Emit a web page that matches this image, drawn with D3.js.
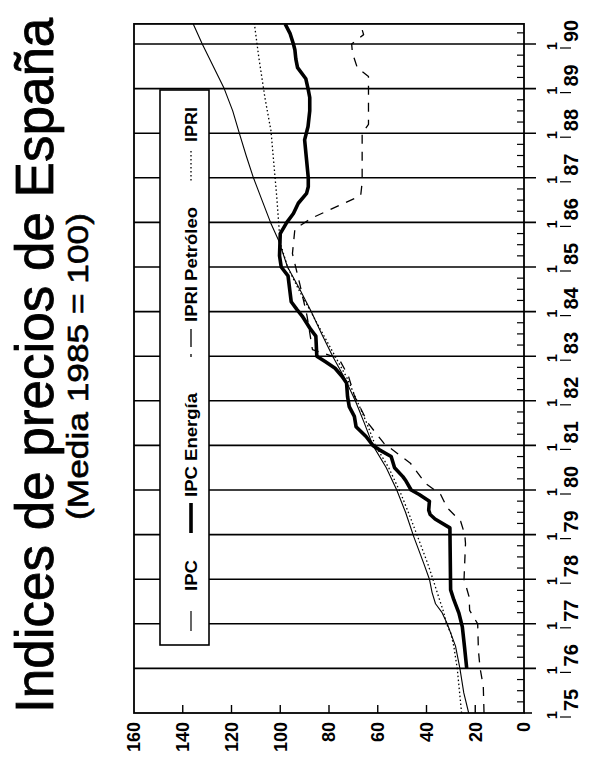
<!DOCTYPE html>
<html>
<head>
<meta charset="utf-8">
<script src="https://cdn.jsdelivr.net/npm/d3@7"></script>
<style>
  html, body { margin: 0; padding: 0; background: #fff; }
  svg { display: block; }
  text { font-family: "Liberation Sans", Arial, Helvetica, sans-serif; fill: #000; }
</style>
</head>
<body>
<svg id="chart" width="598" height="765"></svg>
<script>
// ---------------- data ----------------
const valueTicks = [0, 20, 40, 60, 80, 100, 120, 140, 160];
const yearStarts = [1975, 1976, 1977, 1978, 1979, 1980, 1981, 1982, 1983, 1984, 1985, 1986, 1987, 1988, 1989, 1990];
const yearLabels = ["75", "76", "77", "78", "79", "80", "81", "82", "83", "84", "85", "86", "87", "88", "89", "90"];
const monthLabel = "1";

// IPC (thin solid)
const ipcT = [1975.0, 1975.45, 1976.0, 1976.5, 1977.0, 1977.25, 1977.45, 1977.7, 1978.0, 1978.35, 1978.95, 1979.5, 1980.0, 1980.5, 1981.0, 1981.5, 1982.0, 1982.5, 1983.0, 1983.5, 1984.0, 1984.5, 1985.0, 1985.6, 1986.0, 1986.5, 1987.0, 1987.5, 1988.0, 1988.5, 1989.0, 1989.5, 1990.0, 1990.45];
const ipcV = [22.7, 24.7, 26.3, 28.1, 31.5, 33.6, 36.3, 37.7, 38.8, 41.1, 45.2, 48.6, 52.2, 56.5, 62.0, 65.5, 69.2, 73.5, 78.5, 83.0, 87.3, 92.0, 97.0, 100.7, 104.0, 107.5, 111.0, 114.0, 116.8, 119.5, 123.0, 127.5, 132.0, 135.7];

// IPC Energía (thick solid)
const enerT = [1976.0, 1976.48, 1976.93, 1977.24, 1977.54, 1977.76, 1979.15, 1979.35, 1979.45, 1979.55, 1979.75, 1979.9, 1980.0, 1980.2, 1980.3, 1980.5, 1980.75, 1980.9, 1981.0, 1981.2, 1981.42, 1981.65, 1981.87, 1982.1, 1982.4, 1982.55, 1982.73, 1982.88, 1983.0, 1983.45, 1983.6, 1983.9, 1984.05, 1984.22, 1984.8, 1985.0, 1985.25, 1985.75, 1986.0, 1986.2, 1986.43, 1986.65, 1986.8, 1987.0, 1987.4, 1987.85, 1988.15, 1988.5, 1988.8, 1989.0, 1989.22, 1989.47, 1989.66, 1989.87, 1990.0, 1990.24, 1990.45];
const enerV = [23.5, 24.4, 25.3, 26.7, 28.8, 30.1, 30.4, 36.5, 38.5, 39.1, 38.8, 43.0, 46.3, 48.4, 49.7, 53.1, 54.5, 59.3, 62.0, 64.8, 68.9, 69.6, 71.7, 72.4, 72.8, 74.7, 77.5, 81.6, 85.0, 85.4, 87.5, 91.0, 93.2, 95.5, 96.8, 99.6, 100.3, 100.0, 97.3, 94.6, 92.6, 89.2, 88.5, 88.5, 89.2, 90.0, 88.6, 87.9, 87.9, 88.6, 89.5, 92.9, 93.6, 94.0, 94.6, 96.0, 98.0];

// IPRI Petróleo (dashed)
const petT = [1975.0, 1975.6, 1976.0, 1976.4, 1977.0, 1977.3, 1977.6, 1978.0, 1978.4, 1978.8, 1979.0, 1979.3, 1979.6, 1979.9, 1980.15, 1980.6, 1981.05, 1981.5, 1982.1, 1982.55, 1982.95, 1983.15, 1983.9, 1984.6, 1985.3, 1985.85, 1986.1, 1986.4, 1986.6, 1986.9, 1987.5, 1988.0, 1988.2, 1988.95, 1989.27, 1989.47, 1989.8, 1990.0, 1990.21, 1990.45];
const petV = [16.4, 16.7, 18.0, 18.7, 19.0, 22.3, 22.5, 24.6, 24.3, 24.0, 24.3, 26.0, 31.5, 34.2, 40.4, 46.6, 57.5, 64.0, 69.5, 72.0, 76.0, 86.8, 89.0, 91.9, 95.0, 94.0, 87.0, 75.0, 67.0, 66.4, 66.4, 66.4, 63.8, 63.8, 63.8, 68.4, 70.4, 70.7, 65.8, 67.1];

// IPRI (dotted)
const ipriT = [1975.0, 1975.5, 1976.0, 1976.5, 1976.8, 1977.0, 1977.25, 1977.7, 1977.94, 1978.35, 1978.95, 1979.48, 1979.94, 1980.5, 1981.0, 1981.5, 1982.0, 1982.5, 1983.0, 1983.5, 1984.0, 1984.5, 1985.0, 1985.5, 1985.8, 1986.55, 1987.3, 1988.05, 1988.8, 1989.7, 1990.45];
const ipriV = [25.6, 26.5, 27.4, 28.8, 30.1, 31.8, 32.9, 35.6, 37.0, 39.5, 43.6, 47.3, 50.7, 55.5, 61.0, 64.5, 68.5, 72.5, 77.5, 82.5, 87.5, 92.5, 97.0, 99.8, 100.4, 101.4, 102.6, 103.8, 106.3, 108.8, 110.6];

const legendNames = ["IPC", "IPC Energía", "IPRI Petróleo", "IPRI"];
const titleText = "Indices de precios de España";
const subtitleText = "(Media 1985 = 100)";

// ---------------- layout ----------------
const svg = d3.select("#chart");
const tEnd = 1990.45;
const y = d3.scaleLinear().domain([1975, 1990]).range([713, 44]);   // time runs upward
const x = d3.scaleLinear().domain([0, 160]).range([524, 134]);      // value runs leftward
const pTop = y(tEnd), pBottom = y(1975), pLeft = x(160), pRight = x(0);

svg.append("defs").append("clipPath").attr("id", "plotclip")
  .append("rect").attr("x", pLeft).attr("y", pTop).attr("width", pRight - pLeft).attr("height", pBottom - pTop);

// title
svg.append("text")
  .attr("transform", `translate(53,${pBottom}) rotate(-90)`)
  .attr("font-size", 53)
  .attr("stroke", "#000").attr("stroke-width", 0.8)
  .text(titleText);
svg.append("text")
  .attr("transform", `translate(88,520) rotate(-90)`)
  .attr("font-size", 29)
  .attr("stroke", "#000").attr("stroke-width", 0.6)
  .attr("textLength", 307).attr("lengthAdjust", "spacingAndGlyphs")
  .text(subtitleText);

// year gridlines (extend past right edge as ticks)
svg.append("g").selectAll("line").data(yearStarts.slice(1)).join("line")
  .attr("x1", pLeft).attr("x2", pRight + 12)
  .attr("y1", d => y(d)).attr("y2", d => y(d))
  .attr("stroke", "#000").attr("stroke-width", 1.6);
svg.append("line").attr("x1", pRight).attr("x2", pRight + 8)
  .attr("y1", pBottom).attr("y2", pBottom).attr("stroke", "#000").attr("stroke-width", 1.6);

// quarterly minor ticks along right edge
const quarters = [];
yearStarts.forEach(yr => [0.25, 0.5, 0.75].forEach(q => { if (yr + q < tEnd) quarters.push(yr + q); }));
svg.append("g").selectAll("line").data(quarters).join("line")
  .attr("x1", pRight - 7).attr("x2", pRight)
  .attr("y1", d => y(d)).attr("y2", d => y(d))
  .attr("stroke", "#000").attr("stroke-width", 1.2);

// value ticks along bottom edge
svg.append("g").selectAll("line").data(valueTicks.slice(1, -1)).join("line")
  .attr("x1", d => x(d)).attr("x2", d => x(d))
  .attr("y1", pBottom).attr("y2", pBottom - 8)
  .attr("stroke", "#000").attr("stroke-width", 1.4);

// value labels
svg.append("g").selectAll("text").data(valueTicks).join("text")
  .attr("transform", d => `translate(${x(d)},722) rotate(-90)`)
  .attr("text-anchor", "end").attr("dy", "0.36em")
  .attr("font-size", 18).attr("font-weight", "bold")
  .text(d => d);

// month "1" labels
svg.append("g").selectAll("text").data(yearStarts).join("text")
  .attr("transform", d => `translate(557,${y(d) + 2}) rotate(-90)`)
  .attr("text-anchor", "middle")
  .attr("font-size", 14).attr("font-weight", "bold")
  .text(monthLabel);
// separators
svg.append("g").selectAll("line").data(yearStarts).join("line")
  .attr("x1", 560).attr("x2", 571)
  .attr("y1", d => y(d) + 4).attr("y2", d => y(d) + 4)
  .attr("stroke", "#000").attr("stroke-width", 1.2);
// year labels
svg.append("g").selectAll("text").data(yearStarts).join("text")
  .attr("transform", d => `translate(578,${y(d) - 2}) rotate(-90)`)
  .attr("text-anchor", "start")
  .attr("font-size", 20).attr("font-weight", "bold")
  .text((d, i) => yearLabels[i]);

// series
const line = d3.line().x(d => x(d[1])).y(d => y(d[0]));
const zipS = (T, V) => T.map((t, i) => [t, V[i]]);
const series = [
  { data: zipS(ipriT, ipriV), w: 1.3, dash: "1.5,2.5" },
  { data: zipS(petT, petV), w: 1.3, dash: "9,8" },
  { data: zipS(ipcT, ipcV), w: 1.1, dash: null },
  { data: zipS(enerT, enerV), w: 3.6, dash: null }
];
const gLines = svg.append("g").attr("clip-path", "url(#plotclip)");
series.forEach(s => {
  gLines.append("path").datum(s.data)
    .attr("d", line)
    .attr("fill", "none").attr("stroke", "#000")
    .attr("stroke-width", s.w)
    .attr("stroke-linejoin", "round")
    .attr("stroke-dasharray", s.dash);
});

// legend box
svg.append("rect").attr("x", 160).attr("y", 90).attr("width", 49).attr("height", 555)
  .attr("fill", "#fff").attr("stroke", "#000").attr("stroke-width", 1.6);
const lx = 191;
svg.append("line").attr("x1", lx).attr("x2", lx).attr("y1", 611).attr("y2", 631)
  .attr("stroke", "#000").attr("stroke-width", 1.2);
svg.append("line").attr("x1", lx).attr("x2", lx).attr("y1", 503).attr("y2", 533)
  .attr("stroke", "#000").attr("stroke-width", 3.6);
svg.append("line").attr("x1", lx).attr("x2", lx).attr("y1", 329).attr("y2", 357)
  .attr("stroke", "#000").attr("stroke-width", 1.3).attr("stroke-dasharray", "18,7,3,20");
svg.append("line").attr("x1", lx).attr("x2", lx).attr("y1", 151).attr("y2", 181)
  .attr("stroke", "#000").attr("stroke-width", 1.3).attr("stroke-dasharray", "1.5,2.5");
const legPos = [[591, 31], [497, 104], [322, 115], [142, 35]];
svg.append("g").selectAll("text").data(legendNames).join("text")
  .attr("transform", (d, i) => `translate(197,${legPos[i][0]}) rotate(-90)`)
  .attr("font-size", 16).attr("font-weight", "bold")
  .attr("textLength", (d, i) => legPos[i][1]).attr("lengthAdjust", "spacingAndGlyphs")
  .text(d => d);

// plot frame
svg.append("rect").attr("x", pLeft).attr("y", pTop).attr("width", pRight - pLeft).attr("height", pBottom - pTop)
  .attr("fill", "none").attr("stroke", "#000").attr("stroke-width", 1.8);
</script>
</body>
</html>
